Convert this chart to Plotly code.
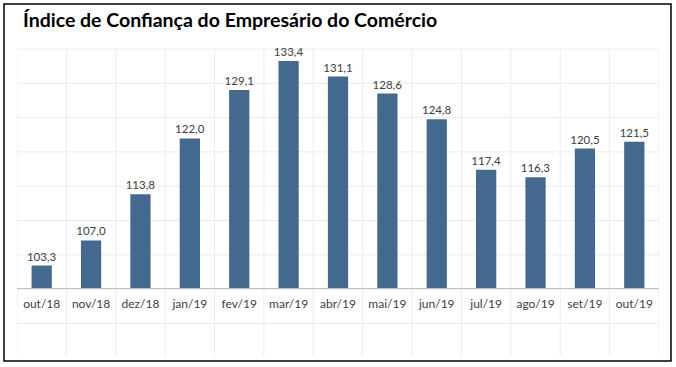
import plotly.graph_objects as go

categories = ["out/18", "nov/18", "dez/18", "jan/19", "fev/19", "mar/19", "abr/19",
              "mai/19", "jun/19", "jul/19", "ago/19", "set/19", "out/19"]
values = [103.3, 107.0, 113.8, 122.0, 129.1, 133.4, 131.1, 128.6, 124.8, 117.4, 116.3, 120.5, 121.5]

W, H = 676, 367
ml, mr, mt, mb = 17, 17, 50, 79
plot_h = H - mt - mb

def py(pix):
    return (H - mb - pix) / plot_h

fig = go.Figure(go.Bar(
    x=categories, y=values,
    marker=dict(color="#44698F", line=dict(width=0)),
    texttemplate="%{y:.1f}", textposition="outside", cliponaxis=False,
    constraintext="none",
    textfont=dict(family="Lato, Open Sans, sans-serif", size=11.5, color="#404040"),
    width=0.41,
    hoverinfo="skip",
))

shapes = []
grid_col = "#ececec"
# faint spreadsheet-like cell grid
for i in range(len(categories) + 1):
    shapes.append(dict(type="line", xref="x", yref="paper", x0=i - 0.5, x1=i - 0.5,
                       y0=py(356), y1=py(49), line=dict(color=grid_col, width=1), layer="below"))
for k in range(10):
    yy = 49 + 34.3 * k
    if yy > 357:
        break
    shapes.append(dict(type="line", xref="paper", yref="paper", x0=0, x1=1,
                       y0=py(yy), y1=py(yy), line=dict(color=grid_col, width=1), layer="below"))
# outer frame
shapes.append(dict(type="rect", xref="paper", yref="paper",
                   x0=(4 - ml) / (W - ml - mr), x1=(671 - ml) / (W - ml - mr),
                   y0=py(361), y1=py(4), line=dict(color="#000000", width=1.5)))

fig.update_layout(
    width=W, height=H,
    margin=dict(l=ml, r=mr, t=mt, b=mb),
    paper_bgcolor="white", plot_bgcolor="white",
    separators=",.",
    showlegend=False,
    title=dict(text="<b>Índice de Confiança do Empresário do Comércio</b>",
               x=23 / W, xanchor="left", y=1 - 20 / H, yanchor="middle",
               font=dict(family="Lato, Open Sans, sans-serif", size=19.5, color="#000000")),
    xaxis=dict(showgrid=False, showline=True, linecolor="#bfbfbf", linewidth=1,
               ticks="", ticklabelstandoff=5,
               tickfont=dict(family="Lato, Open Sans, sans-serif", size=12, color="#404040"),
               range=[-0.5, len(categories) - 0.5]),
    yaxis=dict(range=[100, 135], visible=False, showgrid=False, zeroline=False),
    shapes=shapes,
)

fig.write_html("out.html", config={"displayModeBar": False, "staticPlot": True},
               post_script="document.body.style.margin='0';document.body.style.overflow='hidden';")
